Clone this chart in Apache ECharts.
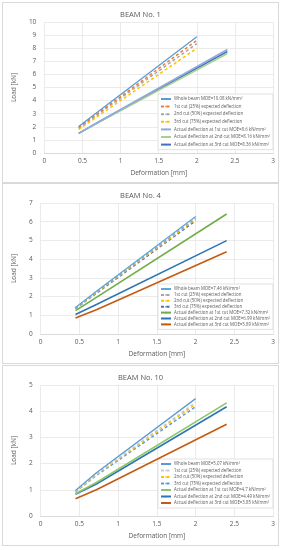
<!DOCTYPE html>
<html><head><meta charset="utf-8">
<script src="https://cdn.jsdelivr.net/npm/echarts@6/dist/echarts.min.js"></script>
<style>
html,body{margin:0;padding:0;background:#fff;width:281px;height:550px;overflow:hidden;}
.p{position:absolute;left:2px;width:277px;height:181px;border:1px solid #d9d9d9;box-sizing:border-box;}
</style></head><body>
<div id="c1" class="p" style="top:2px"></div>
<div id="c2" class="p" style="top:183px"></div>
<div id="c3" class="p" style="top:365px"></div>
<script>
// x positions of measured points
const xExpected = [0.45, 0.72, 2.0];
const xActual = [0.45, 0.72, 2.4];
const xTicks = ['0', '0.5', '1', '1.5', '2', '2.5', '3'];

// BEAM No. 1
const b1Titles = ['Whole beam MOE=10.08 kN/mm²', '1st cut (25%) expected deflection', '2nd cut (50%) expected deflection', '3rd cut (75%) expected deflection', 'Actual deflection at 1st cut MOE=8.6 kN/mm²', 'Actual deflection at 2nd cut MOE=8.16 kN/mm²', 'Actual deflection at 3rd cut MOE=8.36 kN/mm²'];
const b1Whole = [2.02, 3.22, 8.88];
const b1Cut1 = [1.95, 3.10, 8.60];
const b1Cut2 = [1.90, 3.02, 8.35];
const b1Cut3 = [1.80, 2.88, 8.00];
const b1Act1 = [1.50, 2.40, 7.90];
const b1Act2 = [1.50, 2.36, 7.60];
const b1Act3 = [1.50, 2.38, 7.75];

// BEAM No. 4
const b4Titles = ['Whole beam MOE=7.46 kN/mm²', '1st cut (25%) expected deflection', '2nd cut (50%) expected deflection', '3rd cut (75%) expected deflection', 'Actual deflection at 1st cut MOE=7.32 kN/mm²', 'Actual deflection at 2nd cut MOE=6.99 kN/mm²', 'Actual deflection at 3rd cut MOE=5.89 kN/mm²'];
const b4Whole = [1.42, 2.28, 6.28];
const b4Cut1 = [1.40, 2.24, 6.18];
const b4Cut2 = [1.38, 2.21, 6.12];
const b4Cut3 = [1.36, 2.18, 6.05];
const b4Act1 = [1.25, 1.96, 6.41];
const b4Act2 = [1.04, 1.58, 4.99];
const b4Act3 = [0.85, 1.30, 4.40];

// BEAM No. 10
const b10Titles = ['Whole beam MOE=5.07 kN/mm²', '1st cut (25%) expected deflection', '2nd cut (50%) expected deflection', '3rd cut (75%) expected deflection', 'Actual deflection at 1st cut MOE=4.7 kN/mm²', 'Actual deflection at 2nd cut MOE=4.49 kN/mm²', 'Actual deflection at 3rd cut MOE=3.85 kN/mm²'];
const b10Whole = [0.97, 1.65, 4.48];
const b10Cut1 = [0.95, 1.60, 4.33];
const b10Cut2 = [0.93, 1.58, 4.27];
const b10Cut3 = [0.92, 1.55, 4.17];
const b10Act1 = [0.85, 1.28, 4.32];
const b10Act2 = [0.83, 1.22, 4.17];
const b10Act3 = [0.66, 1.00, 3.50];

function pts(xs, ys){ return xs.map((x,i)=>[x, ys[i]]); }

function build(el, title, ymax, names, ys, colors, legendTop, gap){
  const chart = echarts.init(document.getElementById(el), null, {renderer:'canvas'});
  const series = ys.map((y,i)=>({
    name: names[i], type:'line', symbol:'none', silent:true,
    data: pts(i<4 ? xExpected : xActual, y),
    lineStyle:{color:colors[i], width: i===0?1.3:(i<4?1.5:1.6), type: (i>0&&i<4)?[3,2.5]:'solid'},
    itemStyle:{color:colors[i]}, z: 10-i
  }));
  chart.setOption({
    animation:false,
    title:{text:title, left:'center', top:3, textStyle:{fontSize:7.5, fontWeight:'normal', color:'#595959', fontFamily:'Open Sans'}},
    grid:{left:34.5, right:3, top:19, bottom:25},
    xAxis:{type:'value', min:0, max:3, interval:0.5, name:'Deformation [mm]', nameLocation:'middle', nameGap:17,
      nameTextStyle:{fontSize:6.5, color:'#595959', fontFamily:'Open Sans'},
      axisLine:{show:true, lineStyle:{color:'#d9d9d9'}}, axisTick:{show:false},
      axisLabel:{fontSize:6.5, color:'#595959', margin:5, fontFamily:'Open Sans', formatter:(v)=>xTicks[Math.round(v*2)]},
      splitLine:{show:true, lineStyle:{color:'#e6e6e6', width:0.8}}},
    yAxis:{type:'value', min:0, max:ymax, interval:1, name:'Load [kN]', nameLocation:'middle', nameGap:14,
      nameTextStyle:{fontSize:6.5, color:'#595959', fontFamily:'Open Sans'},
      axisLine:{show:false}, axisTick:{show:false},
      axisLabel:{fontSize:6.5, color:'#595959', margin:8, fontFamily:'Open Sans'},
      splitLine:{show:true, lineStyle:{color:'#e6e6e6', width:0.8}}},
    legend:{orient:'vertical', left:155, top:legendTop, itemWidth:10, itemHeight:2, itemGap:gap,
      padding:[3,3,3,2], backgroundColor:'#fff', borderColor:'#d9d9d9', borderWidth:0.8,
      textStyle:{fontSize:4.4, color:'#595959', padding:[0,0,0,-2], fontFamily:'Open Sans'},
      data:names.map(n=>({name:n}))},
    series: series
  });
}

build('c1', 'BEAM No. 1', 10, b1Titles, [b1Whole,b1Cut1,b1Cut2,b1Cut3,b1Act1,b1Act2,b1Act3],
  ['#5B9BD5','#ED7D31','#A5A5A5','#FFC000','#8FAADC','#A9D18E','#4472C4'], 91, 3.6);
build('c2', 'BEAM No. 4', 7, b4Titles, [b4Whole,b4Cut1,b4Cut2,b4Cut3,b4Act1,b4Act2,b4Act3],
  ['#5BA7E0','#A5A5A5','#FFC000','#4472C4','#70AD47','#2E75B6','#C55A11'], 100, 1.9);
build('c3', 'BEAM No. 10', 5, b10Titles, [b10Whole,b10Cut1,b10Cut2,b10Cut3,b10Act1,b10Act2,b10Act3],
  ['#5B9BD5','#C9C9C9','#FFC000','#5B9BD5','#8CC66A','#2E75B6','#C55A11'], 93, 2.5);
</script></body></html>
